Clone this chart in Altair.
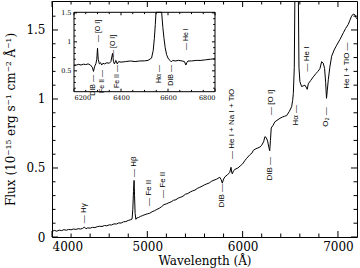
import altair as alt
import pandas as pd

# ---------------- main spectrum ----------------
MAIN_W = [4000, 4025, 4050, 4075, 4100, 4125, 4150, 4175, 4200, 4225, 4250, 4275, 4300, 4320,
          4340, 4355, 4375, 4400, 4425, 4450, 4475, 4500, 4525, 4550, 4575, 4600, 4625, 4650,
          4675, 4700, 4725, 4750, 4775, 4800, 4820, 4840, 4848, 4855, 4861, 4866, 4872, 4880,
          4890, 4910, 4930, 4950, 4975, 5000, 5025, 5050, 5075, 5100, 5125, 5150, 5175, 5200,
          5225, 5250, 5275, 5300, 5325, 5350, 5375, 5400, 5425, 5450, 5475, 5500, 5525, 5550,
          5575, 5600, 5625, 5650, 5675, 5700, 5725, 5760, 5775, 5787, 5800, 5815, 5840, 5865,
          5878, 5885, 5892, 5905, 5920, 5950, 5975, 6000, 6025, 6042, 6075, 6100, 6112, 6140,
          6160, 6182, 6200, 6220, 6234, 6248, 6262, 6275, 6284, 6292, 6300, 6320, 6339, 6360,
          6392, 6420, 6440, 6462, 6490, 6514, 6525, 6532, 6542, 6549, 6560, 6575, 6584, 6591,
          6601, 6619, 6635, 6654, 6671, 6678, 6689, 6715, 6741, 6770, 6790, 6811, 6829, 6846,
          6860, 6871, 6880, 6888, 6899, 6915, 6934, 6960, 6987, 7020, 7057, 7080, 7108, 7125,
          7143, 7160, 7178, 7190, 7200]
MAIN_F = [0.040, 0.048, 0.042, 0.050, 0.046, 0.053, 0.049, 0.055, 0.052, 0.058, 0.055, 0.060, 0.058, 0.062,
          0.072, 0.060, 0.066, 0.064, 0.070, 0.068, 0.075, 0.078, 0.076, 0.083, 0.081, 0.088, 0.087, 0.095,
          0.094, 0.102, 0.101, 0.110, 0.112, 0.120, 0.124, 0.130, 0.200, 0.330, 0.410, 0.300, 0.170, 0.128,
          0.138, 0.142, 0.150, 0.155, 0.162, 0.168, 0.172, 0.183, 0.190, 0.200, 0.208, 0.220, 0.235, 0.240,
          0.248, 0.255, 0.266, 0.270, 0.282, 0.288, 0.296, 0.310, 0.315, 0.326, 0.334, 0.340, 0.352, 0.360,
          0.368, 0.378, 0.385, 0.392, 0.404, 0.412, 0.418, 0.433, 0.415, 0.390, 0.420, 0.437, 0.450, 0.468,
          0.505, 0.470, 0.458, 0.480, 0.490, 0.500, 0.515, 0.530, 0.555, 0.570, 0.595, 0.610, 0.628, 0.640,
          0.645, 0.652, 0.665, 0.690, 0.727, 0.720, 0.695, 0.650, 0.625, 0.700, 0.790, 0.810, 0.835, 0.845,
          0.860, 0.870, 0.875, 0.880, 0.910, 0.944, 0.990, 1.040, 1.230, 1.800, 3.000, 3.000, 1.800, 1.230,
          1.125, 1.090, 1.095, 1.100, 1.080, 1.070, 1.110, 1.135, 1.160, 1.185, 1.200, 1.220, 1.270, 1.260,
          1.220, 1.120, 1.005, 1.060, 1.140, 1.230, 1.310, 1.355, 1.390, 1.430, 1.480, 1.510, 1.540, 1.570,
          1.600, 1.615, 1.610, 1.590, 1.580]

# line identifications in the main panel
ABOVE_LABEL = ["— Hγ", "— Hβ", "— Fe II", "— Fe II", "— He I + Na I + TiO", "— [O I]", "— He I"]
ABOVE_W = [4340, 4861, 5018, 5169, 5885, 6300, 6678]
ABOVE_F = [0.100, 0.435, 0.225, 0.283, 0.565, 0.884, 1.200]
BELOW_LABEL = ["DIB —", "DIB —", "Hα —", "O₂ —", "He I + TiO —"]
BELOW_W = [5780, 6284, 6563, 6874, 7095]
BELOW_F = [0.384, 0.580, 0.957, 0.940, 1.410]

# ---------------- inset spectrum ----------------
INSET_W = [6200, 6210, 6220, 6230, 6240, 6250, 6260, 6270, 6278, 6283, 6288, 6293, 6297, 6300,
           6303, 6308, 6313, 6318, 6323, 6330, 6340, 6350, 6357, 6364, 6368, 6372, 6378, 6384,
           6390, 6400, 6420, 6440, 6460, 6480, 6500, 6515, 6530, 6537, 6542, 6546, 6549, 6555,
           6563, 6570, 6573, 6578, 6583, 6588, 6594, 6600, 6608, 6614, 6620, 6630, 6645, 6660,
           6670, 6676, 6680, 6685, 6700, 6720, 6740, 6760, 6780, 6800]
INSET_F = [0.590, 0.600, 0.612, 0.600, 0.615, 0.608, 0.620, 0.600, 0.560, 0.490, 0.580, 0.620, 0.700, 0.890,
           0.700, 0.620, 0.640, 0.600, 0.630, 0.620, 0.640, 0.630, 0.660, 0.800, 0.660, 0.620, 0.680, 0.620,
           0.660, 0.650, 0.660, 0.670, 0.660, 0.670, 0.672, 0.680, 0.720, 0.850, 1.060, 1.300, 1.550, 2.500,
           3.500, 2.500, 1.550, 1.250, 1.060, 0.900, 0.780, 0.720, 0.680, 0.655, 0.680, 0.670, 0.680, 0.670,
           0.660, 0.600, 0.640, 0.670, 0.670, 0.680, 0.680, 0.690, 0.700, 0.710]

IN_ABOVE_LABEL = ["— [O I]", "— [O I]", "— He I"]
IN_ABOVE_W = [6300, 6364, 6678]
IN_ABOVE_F = [0.997, 0.740, 0.860]
IN_BELOW_LABEL = ["DIB —", "Fe II —", "Fe II —", "Hα —", "DIB —"]
IN_BELOW_W = [6281, 6318, 6384, 6562, 6614]
IN_BELOW_F = [0.428, 0.514, 0.600, 0.600, 0.600]

# axis limits and ticks
MAIN_XDOM = [4000, 7200]
MAIN_YDOM = [0, 1.71]
MAIN_XMAJ = [4000, 5000, 6000, 7000]
MAIN_XMIN = [4200, 4400, 4600, 4800, 5200, 5400, 5600, 5800, 6200, 6400, 6600, 6800]
MAIN_YMAJ = [0, 0.5, 1, 1.5]
MAIN_YMIN = [0.1, 0.2, 0.3, 0.4, 0.6, 0.7, 0.8, 0.9, 1.1, 1.2, 1.3, 1.4, 1.6]
IN_XDOM = [6200, 6800]
IN_YDOM = [0.14, 1.51]
IN_XMAJ = [6200, 6400, 6600, 6800]
IN_XMIN = [6250, 6300, 6350, 6450, 6500, 6550, 6650, 6700, 6750]
IN_YMAJ = [0.5, 1, 1.5]
IN_YMIN = [0.2, 0.3, 0.4, 0.6, 0.7, 0.8, 0.9, 1.1, 1.2, 1.3, 1.4]

W, H = 305, 236
SERIF = "DejaVu Serif"
SANS = "Liberation Sans"

xs = alt.Scale(domain=MAIN_XDOM, nice=False, zero=False)
ys = alt.Scale(domain=MAIN_YDOM, nice=False, zero=False)
IX0, IX1, IY0, IY1 = 22, 163, 90.7, 11.3
xi = alt.Scale(domain=IN_XDOM, range=[IX0, IX1], nice=False, zero=False)
yi = alt.Scale(domain=IN_YDOM, range=[IY0, IY1], nice=False, zero=False, clamp=True)

ax_main_x = alt.Axis(
    orient="bottom", title="Wavelength (Å)", values=MAIN_XMAJ, format="d", ticks=False, domain=False,
    grid=False, labelFont=SERIF, labelFontSize=12, labelColor="black", labelPadding=4,
    titleFont=SERIF, titleFontSize=12, titleFontWeight="normal", titleColor="black", titlePadding=3)
ax_main_y = alt.Axis(
    orient="left", title="Flux (10⁻¹⁵ erg s⁻¹ cm⁻² Å⁻¹)", values=MAIN_YMAJ, format="~g", ticks=False,
    domain=False, grid=False, labelFont=SERIF, labelFontSize=12, labelColor="black", labelPadding=7,
    titleFont=SERIF, titleFontSize=12, titleFontWeight="normal", titleColor="black", titlePadding=8)
ax_in_x = alt.Axis(
    orient="bottom", offset=IY0 - H, title="", values=IN_XMAJ, format="d", ticks=False,
    domain=False, grid=False, labelFont=SERIF, labelFontSize=6.5, labelColor="black", labelPadding=3)
ax_in_y = alt.Axis(
    orient="left", offset=-IX0, title="", values=IN_YMAJ, format="~g", ticks=False,
    domain=False, grid=False, labelFont=SERIF, labelFontSize=6.5, labelColor="black", labelPadding=3)

main_df = pd.DataFrame({"w": MAIN_W, "f": MAIN_F})
line_main = alt.Chart(main_df).mark_line(color="black", strokeWidth=1, clip=True).encode(
    x=alt.X("w:Q", scale=xs, axis=ax_main_x),
    y=alt.Y("f:Q", scale=ys, axis=ax_main_y),
)


def xticks(vals, scale, axis, y0, y1):
    return alt.Chart(pd.DataFrame({"w": vals})).mark_rule(color="black", strokeWidth=1).encode(
        x=alt.X("w:Q", scale=scale, axis=axis), y=alt.value(y0), y2=alt.value(y1))


def yticks(vals, scale, axis, x0, x1):
    return alt.Chart(pd.DataFrame({"f": vals})).mark_rule(color="black", strokeWidth=1).encode(
        y=alt.Y("f:Q", scale=scale, axis=axis), x=alt.value(x0), x2=alt.value(x1))


def labels(ws, fs, texts, xscale, yscale, xaxis, yaxis, align, size):
    df = pd.DataFrame({"w": ws, "f": fs, "t": texts})
    return alt.Chart(df).mark_text(angle=270, align=align, baseline="middle", font=SANS,
                                   fontSize=size, color="black").encode(
        x=alt.X("w:Q", scale=xscale, axis=xaxis), y=alt.Y("f:Q", scale=yscale, axis=yaxis), text="t:N")


main_layers = [
    line_main,
    xticks(MAIN_XMAJ, xs, ax_main_x, H, H - 6), xticks(MAIN_XMIN, xs, ax_main_x, H, H - 3.5),
    xticks(MAIN_XMAJ, xs, ax_main_x, 0, 6), xticks(MAIN_XMIN, xs, ax_main_x, 0, 3.5),
    yticks(MAIN_YMAJ, ys, ax_main_y, 0, 6), yticks(MAIN_YMIN, ys, ax_main_y, 0, 3.5),
    yticks(MAIN_YMAJ, ys, ax_main_y, W, W - 6), yticks(MAIN_YMIN, ys, ax_main_y, W, W - 3.5),
    labels(ABOVE_W, ABOVE_F, ABOVE_LABEL, xs, ys, ax_main_x, ax_main_y, "left", 8),
    labels(BELOW_W, BELOW_F, BELOW_LABEL, xs, ys, ax_main_x, ax_main_y, "right", 8),
]
main = alt.layer(*main_layers)

box_df = pd.DataFrame({"w": [IN_XDOM[0]], "w2": [IN_XDOM[1]], "f": [IN_YDOM[0]], "f2": [IN_YDOM[1]]})
box = alt.Chart(box_df).mark_rect(fill="white", stroke="black", strokeWidth=1).encode(
    x=alt.X("w:Q", scale=xi, axis=ax_in_x), x2="w2:Q",
    y=alt.Y("f:Q", scale=yi, axis=ax_in_y), y2="f2:Q")

inset_df = pd.DataFrame({"w": INSET_W, "f": INSET_F})
line_inset = alt.Chart(inset_df).mark_line(color="black", strokeWidth=1).encode(
    x=alt.X("w:Q", scale=xi, axis=ax_in_x),
    y=alt.Y("f:Q", scale=yi, axis=ax_in_y),
)

inset_layers = [
    box, line_inset,
    xticks(IN_XMAJ, xi, ax_in_x, IY0, IY0 - 3), xticks(IN_XMIN, xi, ax_in_x, IY0, IY0 - 1.8),
    xticks(IN_XMAJ, xi, ax_in_x, IY1, IY1 + 3), xticks(IN_XMIN, xi, ax_in_x, IY1, IY1 + 1.8),
    yticks(IN_YMAJ, yi, ax_in_y, IX0, IX0 + 3), yticks(IN_YMIN, yi, ax_in_y, IX0, IX0 + 1.8),
    yticks(IN_YMAJ, yi, ax_in_y, IX1, IX1 - 3), yticks(IN_YMIN, yi, ax_in_y, IX1, IX1 - 1.8),
    labels(IN_ABOVE_W, IN_ABOVE_F, IN_ABOVE_LABEL, xi, yi, ax_in_x, ax_in_y, "left", 7),
    labels(IN_BELOW_W, IN_BELOW_F, IN_BELOW_LABEL, xi, yi, ax_in_x, ax_in_y, "right", 7),
]
inset = alt.layer(*inset_layers)

chart = alt.layer(main, inset).resolve_scale(
    x="independent", y="independent"
).resolve_axis(
    x="independent", y="independent"
).properties(
    width=W, height=H, autosize=alt.AutoSizeParams(type="none"),
    padding={"left": 52, "top": 1, "right": 3, "bottom": 31},
    background="white",
).configure_view(stroke="black", strokeWidth=1)

chart.save("out.html", embed_options={"renderer": "svg", "actions": False})
